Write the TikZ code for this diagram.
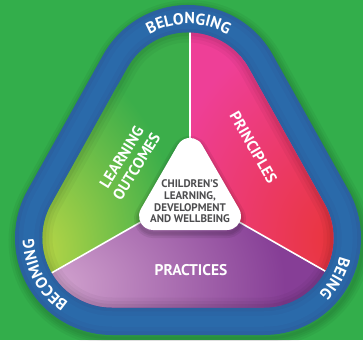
\documentclass[tikz,border=0pt]{standalone}
\usepackage{fontspec}
\setmainfont{PT Sans}
\usetikzlibrary{calc,decorations.text}
\definecolor{bggreen}{HTML}{33AE4B}
\definecolor{ringbase}{HTML}{2B61A0}
\definecolor{ringb}{HTML}{2A66A6}
\definecolor{ringc}{HTML}{2A6AAA}
\definecolor{secgreen}{HTML}{3BAE4A}
\definecolor{seclime}{HTML}{B8D646}
\definecolor{secpink}{HTML}{EE3F97}
\definecolor{secred}{HTML}{E9353A}
\definecolor{secpurple}{HTML}{863E96}
\definecolor{seclilac}{HTML}{D4A6D0}
\definecolor{centregrey}{HTML}{4D4D4F}
\newcommand\rtri[1]{($(112,102)+(270:#1)$) -- ($(264,102)+(270:#1)$)
  arc[start angle=270,end angle=389.2,radius=#1pt]
  -- ($(188,238)+(29.2:#1)$) arc[start angle=29.2,end angle=150.8,radius=#1pt]
  -- ($(112,102)+(150.8:#1)$) arc[start angle=150.8,end angle=270,radius=#1pt] -- cycle}
\newcommand\ctri{($(153,124)+(270:14)$) -- ($(227,124)+(270:14)$)
  arc[start angle=270,end angle=390,radius=14pt]
  -- ($(190,188.1)+(30:14)$) arc[start angle=30,end angle=150,radius=14pt]
  -- ($(153,124)+(150:14)$) arc[start angle=150,end angle=270,radius=14pt] -- cycle}
\newcommand\ringfont{\bfseries\fontsize{16}{16}\selectfont}
\begin{document}
\begin{tikzpicture}[x=1pt,y=1pt,
  sectorlabel/.style={text=white,font=\bfseries\fontsize{15.5}{17.5}\selectfont,align=center,inner sep=0pt},
  centrelabel/.style={text=centregrey,font=\bfseries\fontsize{11}{11.7}\selectfont,align=center,inner sep=0pt},
  divider/.style={draw=white,line width=1.6pt},
  ringtext/.style={decorate,decoration={text along path,text={|\ringfont|#1},text align=center,text color=white}}]
\useasboundingbox (0,0) rectangle (363,340);
\fill[bggreen] (0,0) rectangle (363,340);
% ring shadow
\begin{scope}[shift={(1.5,-3)}]
  \foreach \w in {16,11,7,3} \draw[black,opacity=0.045,line width=\w pt] \rtri{97};
\end{scope}
% ring
\fill[ringbase] \rtri{97};
\draw[ringb,line width=20pt] \rtri{83.25};
\draw[ringc,line width=11pt] \rtri{83.25};
% sectors
\begin{scope}
  \clip \rtri{69.5};
  \coordinate (C) at (190,146);
  \begin{scope}
    \clip (C) -- ($(C)+(90:400)$) -- ($(C)+(150:800)$) -- ($(C)+(210:400)$) -- cycle;
    \fill[secgreen] (0,0) rectangle (363,340);
    \shade[inner color=seclime,outer color=secgreen] (40,88) ellipse[x radius=140pt,y radius=200pt];
  \end{scope}
  \begin{scope}
    \clip (C) -- ($(C)+(330:400)$) -- ($(C)+(30:800)$) -- ($(C)+(90:400)$) -- cycle;
    \fill[secpink] (0,0) rectangle (363,340);
    \shade[inner color=secred,outer color=secpink] (338,100) ellipse[x radius=180pt,y radius=220pt];
  \end{scope}
  \begin{scope}
    \clip (C) -- ($(C)+(210:400)$) -- ($(C)+(270:800)$) -- ($(C)+(330:400)$) -- cycle;
    \fill[secpurple] (0,0) rectangle (363,340);
    \shade[inner color=seclilac,outer color=secpurple] (45,55) ellipse[x radius=240pt,y radius=160pt];
  \end{scope}
  \foreach \w/\o in {20/0.035,13/0.04,7/0.05} \draw[black,opacity=\o,line width=\w pt] \rtri{69.5};
  \coordinate (topend) at (190,330);
  \coordinate (leftend) at ($(C)+(209.7:250)$);
  \coordinate (rightend) at ($(C)+(330.3:250)$);
  \draw[divider] (C) -- (topend);
  \draw[divider] (C) -- (leftend);
  \draw[divider] (C) -- (rightend);
\end{scope}
% centre triangle
\begin{scope}[shift={(0,-3)}]
  \foreach \w in {10,6,3} \draw[black,opacity=0.07,line width=\w pt] \ctri;
\end{scope}
\fill[white] \ctri;
\node[centrelabel] (centre) at (190,138.5) {CHILDREN’S\\LEARNING,\\DEVELOPMENT\\AND WELLBEING};
% sector labels
\node[sectorlabel,rotate=58] (outcomes) at (129,178) {LEARNING\\OUTCOMES};
\node[sectorlabel,rotate=-60] (principles) at (253.5,192.5) {PRINCIPLES};
\node[sectorlabel] (practices) at (191,70) {PRACTICES};
% ring labels
\path[ringtext=BELONGING] ($(188,238)+(149.6:78)$) arc[start angle=149.6,end angle=29.6,radius=78pt];
\path[ringtext=BECOMING] ($(112,102)+(268.5:78)$) arc[start angle=268.5,end angle=148.5,radius=78pt];
\path[ringtext=BEING] ($(264,102)+(30.3:78)$) arc[start angle=30.3,end angle=-89.7,radius=78pt];
\end{tikzpicture}
\end{document}
